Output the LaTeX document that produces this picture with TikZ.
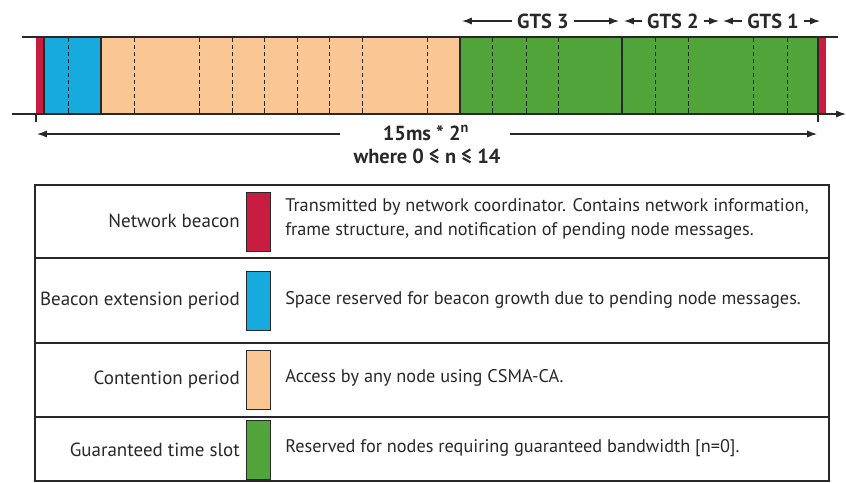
\documentclass[tikz,border=0pt]{standalone}
\usepackage{fontspec}
\setmainfont{PT Sans}
\usetikzlibrary{arrows.meta}
\definecolor{beaconred}{RGB}{200,28,64}
\definecolor{extblue}{RGB}{22,170,222}
\definecolor{contorange}{RGB}{249,198,148}
\definecolor{gtsgreen}{RGB}{80,164,58}
\definecolor{inkgrey}{RGB}{40,40,40}
\begin{document}
\begin{tikzpicture}[x=0.025cm, y=-0.025cm, font=\fontsize{13}{17}\selectfont, text=inkgrey,
    rim/.style={draw=inkgrey, line width=0.9pt},
    slotline/.style={draw=inkgrey, densely dashed, line width=0.7pt},
    span/.style={draw=inkgrey, line width=0.8pt, -{Latex[length=7pt,width=5pt]}},
    swatch/.style={draw=inkgrey, line width=0.7pt, minimum width=0.6cm, minimum height=1.475cm, inner sep=0pt},
    heading/.style={font=\fontsize{14.5}{16}\selectfont\bfseries},
    tag/.style={anchor=east, inner sep=0pt, font=\fontsize{13.5}{17}\selectfont},
    note/.style={anchor=west, align=left, inner sep=0pt}]
    \useasboundingbox (0,0) rectangle (846,482);

    % superframe bar
    \fill[beaconred]  (36,37)  rectangle (44,114);
    \fill[extblue]    (44,37)  rectangle (101,114);
    \fill[contorange] (101,37) rectangle (460,114);
    \fill[gtsgreen]   (460,37) rectangle (818,114);
    \fill[beaconred]  (818,37) rectangle (826,114);
    \draw[rim] (44,37) -- (44,114)  (101,37) -- (101,114)
               (460,37) -- (460,114) (622,37) -- (622,114) (818,37) -- (818,114);
    \draw[slotline] (68,38) -- (68,113)
                    (134,38) -- (134,113) (199,38) -- (199,113) (232,38) -- (232,113)
                    (264,38) -- (264,113) (297,38) -- (297,113) (329,38) -- (329,113)
                    (362,38) -- (362,113) (427,38) -- (427,113)
                    (492,38) -- (492,113) (526,38) -- (526,113) (558,38) -- (558,113)
                    (655,38) -- (655,113) (688,38) -- (688,113) (753,38) -- (753,113)
                    (787,38) -- (787,113);

    % time axis
    \coordinate (topL) at (22,37);
    \coordinate (topR) at (838,37);
    \coordinate (axisL) at (12,114);
    \coordinate (axisR) at (846,114);
    \draw[rim] (topL) -- (topR);
    \draw[rim, -{Latex[length=7pt,width=5pt]}] (axisL) -- (axisR);
    \coordinate (tickL) at (36,122);
    \coordinate (tickR) at (818,122);
    \draw[rim] (36,114) -- (tickL)  (818,114) -- (tickR);

    % GTS spans
    \node[heading] (gts3) at (543,21) {GTS 3};
    \node[heading] (gts2) at (673,21) {GTS 2};
    \node[heading] (gts1) at (773,21) {GTS 1};
    \coordinate (g3L) at (462,21);
    \coordinate (g3R) at (619,21);
    \coordinate (g2L) at (624,21);
    \coordinate (g2R) at (719,21);
    \coordinate (g1L) at (723,21);
    \coordinate (g1R) at (820,21);
    \draw[span] (gts3) -- (g3L);
    \draw[span] (gts3) -- (g3R);
    \draw[span] (gts2) -- (g2L);
    \draw[span] (gts2) -- (g2R);
    \draw[span] (gts1) -- (g1L);
    \draw[span] (gts1) -- (g1R);

    % superframe length
    \node[heading] (period) at (426,133) {15ms * 2\textsuperscript{n}};
    \node[heading] (range) at (427,156) {where 0 ≤ n ≤ 14};
    \coordinate (perL) at (340,134);
    \coordinate (perR) at (510,134);
    \coordinate (perLend) at (37,134);
    \coordinate (perRend) at (817,134);
    \draw[span] (perL) -- (perLend);
    \draw[span] (perR) -- (perRend);

    % legend
    \draw[rim] (35,185) rectangle (829,481);
    \draw[rim] (35,258) -- (829,258)  (35,343) -- (829,343)  (35,417) -- (829,417);

    \node[tag] (lbeacon) at (240,221) {Network beacon};
    \node[swatch, fill=beaconred] (sbeacon) at (258,222) {};
    \node[note] (dbeacon) at (285,219) {Transmitted by network coordinator. Contains network information,\\frame structure, and notification of pending node messages.};

    \node[tag] (lext) at (240,301) {Beacon extension period};
    \node[swatch, fill=extblue] (sext) at (258,301) {};
    \node[note] (dext) at (285,300) {Space reserved for beacon growth due to pending node messages.};

    \node[tag] (lcont) at (240,380) {Contention period};
    \node[swatch, fill=contorange] (scont) at (258,380) {};
    \node[note] (dcont) at (285,378) {Access by any node using CSMA-CA.};

    \node[tag] (lgts) at (240,450) {Guaranteed time slot};
    \node[swatch, fill=gtsgreen] (sgts) at (258,450) {};
    \node[note] (dgts) at (285,448) {Reserved for nodes requiring guaranteed bandwidth [n=0].};
\end{tikzpicture}
\end{document}
